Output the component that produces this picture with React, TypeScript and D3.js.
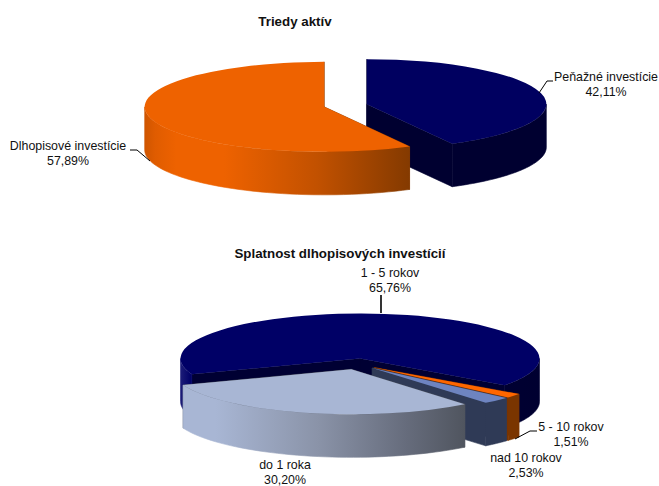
import React from "react";
import * as d3 from "d3";

const FONT = "'Liberation Sans', Arial, sans-serif";

const assetNames = ["Peňažné investície", "Dlhopisové investície"];
const assetValues = [42.11, 57.89];
const assetLabels = ["42,11%", "57,89%"];

const maturityNames = ["1 - 5 rokov", "5 - 10 rokov", "nad 10 rokov", "do 1 roka"];
const maturityValues = [65.76, 1.51, 2.53, 30.2];
const maturityLabels = ["65,76%", "1,51%", "2,53%", "30,20%"];

type Style = { top: string; cut: string; wallStops: [number, string][] };

const assetStyles: Style[] = [
  { top: "#000060", cut: "#000030", wallStops: [[0, "#000030"], [1, "#000030"]] },
  {
    top: "#EE6200",
    cut: "#8A3C00",
    wallStops: [[0, "#CF5500"], [0.04, "#E05C00"], [0.12, "#EE6200"], [0.3, "#EE6200"], [0.65, "#C25100"], [1, "#843A00"]],
  },
];
const maturityStyles: Style[] = [
  { top: "#000066", cut: "#000033", wallStops: [[0, "#1C1C78"], [0.03, "#000066"], [0.1, "#000060"], [0.85, "#000033"], [1, "#000030"]] },
  { top: "#FF6600", cut: "#7A3300", wallStops: [[0, "#7A3500"], [1, "#7A3500"]] },
  { top: "#6E84C0", cut: "#2F3A56", wallStops: [[0, "#2F3A56"], [1, "#2F3A56"]] },
  {
    top: "#A8B6D4",
    cut: "#505560",
    wallStops: [[0, "#A8B6D4"], [0.15, "#A8B6D4"], [0.5, "#8A93A8"], [0.8, "#666C7C"], [1, "#50555F"]],
  },
];

const TAU = Math.PI * 2;
const RX = 179.5;
const RY = 45;
const DEPTH = 43;
const EXPLODE = 22;
const TILT = RY / RX;

function Pie3D({ id, cx, cy, start, values, styles }: { id: string; cx: number; cy: number; start: number; values: number[]; styles: Style[] }) {
  const pie = d3.pie<number>().sort(null).startAngle(start).endAngle(start + TAU);
  const arcs = pie(values);
  const arcGen = d3.arc<d3.PieArcDatum<number>>().innerRadius(0).outerRadius(RX);

  return (
    <g>
      {arcs.map((a, i) => {
        const mid = (a.startAngle + a.endAngle) / 2;
        const ox = cx + EXPLODE * Math.sin(mid);
        const oy = cy - EXPLODE * TILT * Math.cos(mid);
        const pt = (t: number, dy = 0): [number, number] => [ox + RX * Math.sin(t), oy - RY * Math.cos(t) + dy];
        const st = styles[i];
        const walls: string[] = [];
        const k0 = Math.floor(a.startAngle / TAU) - 1;
        for (let k = k0; k <= k0 + 3; k++) {
          const lo = Math.max(a.startAngle, k * TAU + Math.PI / 2);
          const hi = Math.min(a.endAngle, k * TAU + (3 * Math.PI) / 2);
          if (hi > lo) {
            const p = d3.path();
            const n = 48;
            const ts = d3.range(n + 1).map((j) => lo + ((hi - lo) * j) / n);
            ts.forEach((t, j) => {
              const [x, y] = pt(t);
              j ? p.lineTo(x, y) : p.moveTo(x, y);
            });
            ts.slice().reverse().forEach((t) => {
              const [x, y] = pt(t, DEPTH);
              p.lineTo(x, y);
            });
            p.closePath();
            walls.push(p.toString());
          }
        }
        const cutPath = (t: number) => {
          const [x, y] = pt(t);
          const p = d3.path();
          p.moveTo(ox, oy);
          p.lineTo(x, y);
          p.lineTo(x, y + DEPTH);
          p.lineTo(ox, oy + DEPTH);
          p.closePath();
          return p.toString();
        };
        const grad = `url(#${id}-${i})`;
        return (
          <g key={i}>
            <defs>
              <linearGradient id={`${id}-${i}`} gradientUnits="userSpaceOnUse" x1={ox - RX} x2={pt(a.startAngle)[0] > ox ? pt(a.startAngle)[0] : ox + RX} y1={0} y2={0}>
                {st.wallStops.map(([o, c], j) => (
                  <stop key={j} offset={o} stopColor={c} />
                ))}
              </linearGradient>
            </defs>
            <path d={cutPath(a.startAngle)} fill={st.cut} stroke={st.cut} strokeWidth={0.6} />
            <path d={cutPath(a.endAngle)} fill={st.cut} stroke={st.cut} strokeWidth={0.6} />
            {walls.map((d, j) => (
              <path key={j} d={d} fill={grad} stroke={grad} strokeWidth={0.6} />
            ))}
            <path d={arcGen(a) as string} transform={`translate(${ox},${oy}) scale(1,${TILT})`} fill={st.top} />
          </g>
        );
      })}
    </g>
  );
}

function Label({ x, y, name, value }: { x: number; y: number; name: string; value: string }) {
  return (
    <g fontFamily={FONT} fontSize={12.4} fill="#111" textAnchor="middle">
      <text x={x} y={y}>{name}</text>
      <text x={x} y={y + 15}>{value}</text>
    </g>
  );
}

const leader = d3.line();

export default function App() {
  const leaders: { pts: [number, number][]; w: number }[] = [
    { pts: [[539, 93], [547, 81], [553, 81]], w: 1 },
    { pts: [[150, 161], [137, 150], [130, 150]], w: 1 },
    { pts: [[381, 313], [381, 295]], w: 1.6 },
    { pts: [[515, 439], [530, 431], [537, 431]], w: 1 },
  ];
  return (
    <svg width={659} height={486} style={{ position: "absolute", left: 0, top: 0, background: "#fff" }}>
      <text x={295} y={26} textAnchor="middle" fontFamily={FONT} fontSize={13.33} fontWeight="bold" fill="#111">Triedy aktív</text>
      <text x={340} y={258} textAnchor="middle" fontFamily={FONT} fontSize={13.33} fontWeight="bold" fill="#111">Splatnost dlhopisových investícií</text>
      <Pie3D id="a" cx={345.5} cy={105.5} start={0} values={assetValues} styles={assetStyles} />
      <Pie3D id="m" cx={357} cy={364} start={(249.5 * Math.PI) / 180} values={maturityValues} styles={maturityStyles} />
      {leaders.map((l, i) => (
        <path key={i} d={leader(l.pts) as string} fill="none" stroke="#000" strokeWidth={l.w} />
      ))}
      <Label x={606} y={81} name={assetNames[0]} value={assetLabels[0]} />
      <Label x={68} y={150} name={assetNames[1]} value={assetLabels[1]} />
      <Label x={390} y={277} name={maturityNames[0]} value={maturityLabels[0]} />
      <Label x={571} y={431} name={maturityNames[1]} value={maturityLabels[1]} />
      <Label x={526} y={462} name={maturityNames[2]} value={maturityLabels[2]} />
      <Label x={285} y={469} name={maturityNames[3]} value={maturityLabels[3]} />
    </svg>
  );
}
